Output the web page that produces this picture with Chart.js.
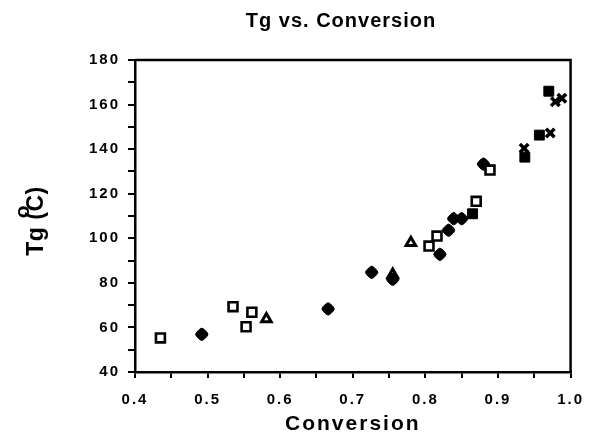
<!DOCTYPE html>
<html>
<head>
<meta charset="utf-8">
<script src="https://cdn.jsdelivr.net/npm/chart.js@4.4.1/dist/chart.umd.min.js"></script>
<style>
  html, body { margin: 0; padding: 0; background: #fff; }
  #wrap { width: 597px; height: 437px; }
</style>
</head>
<body>
<div id="wrap"><canvas id="tg-chart"></canvas></div>
<script>
// values (conversion, Tg in degC)
var openSquareX = [0.435, 0.535, 0.553, 0.561, 0.805, 0.816, 0.870, 0.889];
var openSquareY = [55.3, 69.3, 60.3, 66.8, 96.5, 101.0, 116.6, 130.6];
var diamondX = [0.492, 0.666, 0.726, 0.755, 0.820, 0.832, 0.839, 0.850, 0.880];
var diamondY = [56.9, 68.3, 84.7, 81.6, 92.8, 103.6, 108.8, 108.8, 133.3];
var triangleX = [0.581, 0.755, 0.780];
var triangleY = [63.8, 83.8, 98.0];
var filledSquareX = [0.865, 0.937, 0.957, 0.970];
var filledSquareY = [111.0, 136.4, 146.3, 166.0];
var crossX = [0.936, 0.972, 0.979, 0.988];
var crossY = [140.4, 147.2, 161.3, 162.8];

var xTicks = [0.4, 0.5, 0.6, 0.7, 0.8, 0.9, 1.0];
var yTicks = [40, 60, 80, 100, 120, 140, 160, 180];

function pts(xs, ys){
	return xs.map(function(x, i){ return {x: x, y: ys[i]}; });
}

var FONT = '"Liberation Sans", Arial, Helvetica, sans-serif';

// spaced-out lettering like the scanned figure
var spacing = {
	id: 'spacing',
	beforeLayout: function(chart){ chart.ctx.letterSpacing = '2px'; },
	beforeDraw: function(chart){ chart.ctx.letterSpacing = '2px'; }
};

// frame on top/right + chart title + y title with raised "o"
var extras = {
	id: 'extras',
	afterDraw: function(chart){
		var ctx = chart.ctx, a = chart.chartArea;
		ctx.save();
		ctx.strokeStyle = '#000';
		ctx.lineWidth = 2.5;
		ctx.beginPath();
		ctx.moveTo(a.left, a.top);
		ctx.lineTo(a.right, a.top);
		ctx.lineTo(a.right, a.bottom);
		ctx.stroke();

		ctx.fillStyle = '#000';
		ctx.letterSpacing = '1px';
		ctx.font = 'bold 20px ' + FONT;
		ctx.textAlign = 'center';
		ctx.textBaseline = 'middle';
		ctx.fillText('Tg vs. Conversion', 341, 21);

		// y title, rotated
		ctx.translate(37, 221);
		ctx.rotate(-Math.PI / 2);
		ctx.font = 'bold 23px ' + FONT;
		ctx.letterSpacing = '0.5px';
		var left = 'Tg (', right = 'C)';
		var wl = ctx.measureText(left).width, wr = ctx.measureText(right).width;
		var x0 = -(wl + wr) / 2;
		ctx.textAlign = 'left';
		ctx.textBaseline = 'middle';
		ctx.fillText(left, x0, 0);
		ctx.fillText(right, x0 + wl, 0);
		ctx.font = 'bold 21px ' + FONT;
		ctx.textAlign = 'center';
		ctx.fillText('o', x0 + wl, -14);
		ctx.restore();
	}
};

var ds = function(label, data, style, extra){
	var d = {
		label: label,
		data: data,
		pointStyle: style,
		pointBorderColor: '#000',
		pointBackgroundColor: '#000',
		pointRadius: 6,
		pointBorderWidth: 1,
		showLine: false
	};
	for (var k in extra) d[k] = extra[k];
	return d;
};

new Chart(document.getElementById('tg-chart'), {
	type: 'scatter',
	data: {
		datasets: [
			ds('open square', pts(openSquareX, openSquareY), 'rect', {pointBackgroundColor: '#fff', pointBorderWidth: 2.6, pointRadius: 6.3}),
			ds('diamond', pts(diamondX, diamondY), 'rectRounded', {pointRotation: 45, pointRadius: 6}),
			ds('triangle', pts(triangleX, triangleY), 'triangle', {pointBackgroundColor: '#fff', pointBorderWidth: 3, pointRadius: 5.5}),
			ds('filled square', pts(filledSquareX, filledSquareY), 'rect', {pointRadius: 7}),
			ds('cross', pts(crossX, crossY), 'crossRot', {pointBorderWidth: 3.5, pointRadius: 6})
		]
	},
	plugins: [spacing, extras],
	options: {
		responsive: true,
		maintainAspectRatio: false,
		animation: false,
		events: [],
		layout: { padding: { top: 60, right: 18, left: 0, bottom: 0 } },
		plugins: {
			legend: { display: false },
			title: { display: false },
			tooltip: { enabled: false }
		},
		scales: {
			x: {
				type: 'linear',
				min: xTicks[0],
				max: xTicks[xTicks.length - 1],
				afterFit: function(s){ s.height = 65; },
				border: { color: '#000', width: 2.5 },
				grid: { drawOnChartArea: false, color: '#000', lineWidth: 2, tickLength: 6 },
				ticks: {
					stepSize: 0.05,
					color: '#000',
					padding: 13,
					maxRotation: 0,
					autoSkip: false,
					font: { family: FONT, size: 15, weight: 'bold' },
					callback: function(v){
						var r = Math.round(v * 100);
						return r % 10 === 0 ? (r / 100).toFixed(1) : '';
					}
				},
				title: {
					display: true,
					text: 'Conversion',
					color: '#000',
					padding: { top: 0, bottom: 0 },
					font: { family: FONT, size: 21, weight: 'bold' }
				}
			},
			y: {
				type: 'linear',
				min: yTicks[0],
				max: yTicks[yTicks.length - 1],
				afterFit: function(s){ s.width = 135; },
				border: { color: '#000', width: 2.5 },
				grid: { drawOnChartArea: false, color: '#000', lineWidth: 2, tickLength: 7 },
				ticks: {
					stepSize: 10,
					color: '#000',
					padding: 8,
					autoSkip: false,
					font: { family: FONT, size: 15, weight: 'bold' },
					callback: function(v){ return v % 20 === 0 ? String(v) : ''; }
				}
			}
		}
	}
});
</script>
</body>
</html>
